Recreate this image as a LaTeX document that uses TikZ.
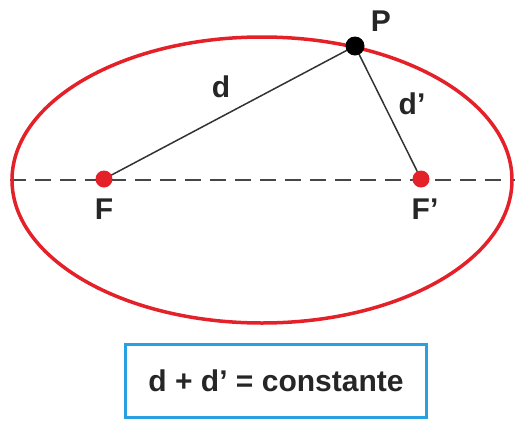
\documentclass[tikz,border=0pt]{standalone}
\usepackage{fontspec}
\setmainfont{Liberation Sans}
\definecolor{ellRed}{RGB}{228,32,40}
\definecolor{boxBlue}{RGB}{40,160,225}
\definecolor{axisGray}{RGB}{70,70,70}
\usetikzlibrary{positioning}
\begin{document}
\begin{tikzpicture}[x=1pt, y=-1pt,
    lbl/.style={font=\fontsize{30}{34}\selectfont\bfseries, text=black!85, inner sep=0pt},
    focus/.style={circle, fill=ellRed, inner sep=0pt, minimum size=17pt},
    pdot/.style={circle, fill=black, inner sep=0pt, minimum size=19pt}
  ]
  \useasboundingbox (0,0) rectangle (515,421);
  % major axis
  \draw[axisGray, line width=2.6pt, dash pattern=on 16pt off 9pt] (10,180) -- (515,180);
  % the ellipse
  \draw[ellRed, line width=3.5pt] (262,180) ellipse [x radius=250, y radius=143];
  % foci and point
  \coordinate (cF) at (104,179);
  \coordinate (cFp) at (421,179);
  \coordinate (cP) at (355,46);
  \draw[black!80, line width=1.5pt] (cF) -- (cP) -- (cFp);
  \foreach \nm/\c in {focusF/cF, focusFp/cFp} {
    \node[focus] (\nm) at (\c) {};
  }
  \node[pdot] (pointP) at (cP) {};
  % labels
  \node[lbl] at (381,21) {P};
  \node[lbl] at (221,87) {d};
  \node[lbl] at (412,104) {d'};
  \node[lbl, below=11pt of focusF] {F};
  \node[lbl, below=11pt of focusFp, xshift=4pt] {F'};
  % the formula
  \node[draw=boxBlue, line width=3pt, minimum width=301pt, minimum height=73pt,
        lbl] (formula) at (276,381) {d + d' = constante};
\end{tikzpicture}
\end{document}
